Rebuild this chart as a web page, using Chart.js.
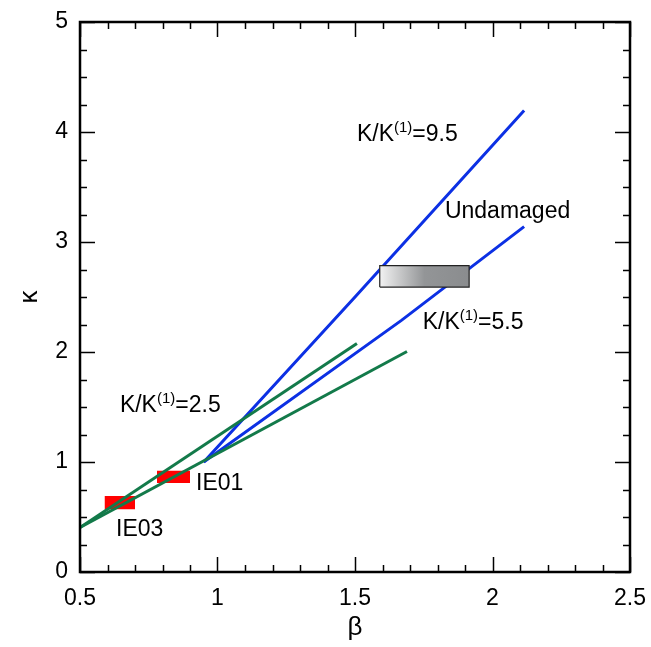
<!DOCTYPE html>
<html lang="en">
<head>
  <meta charset="UTF-8">
  <title>kappa vs beta</title>
  <script src="https://cdn.jsdelivr.net/npm/chart.js"></script>
  <style>
    html, body { margin: 0; padding: 0; background: #fff; }
    #wrap { width: 651px; height: 647px; }
  </style>
</head>
<body>
  <div id="wrap"><canvas id="myChart" width="651" height="647"></canvas></div>

  <script>
    // axis ticks
    const xTickLabels = ['0.5', '1', '1.5', '2', '2.5'];
    const yTickLabels = ['0', '1', '2', '3', '4', '5'];

    // K/K(1) curves (beta, kappa)
    const blue95X = [0.95, 1.5, 2.115];
    const blue95Y = [1.0, 2.5, 4.195];
    const blue55X = [0.95, 1.67, 2.115];
    const blue55Y = [1.0, 2.29, 3.14];
    const greenUpX = [0.5, 1.507];
    const greenUpY = [0.405, 2.077];
    const greenLowX = [0.5, 1.689];
    const greenLowY = [0.405, 2.005];

    // boxes: [xmin, xmax, ymin, ymax]
    const boxIE03 = [0.59, 0.70, 0.57, 0.69];
    const boxIE01 = [0.78, 0.90, 0.81, 0.92];
    const boxUndamaged = [1.59, 1.915, 2.59, 2.785];

    // text labels ("^" marks the superscript part)
    const noteTexts = ['K/K^(1)^=9.5', 'Undamaged', 'K/K^(1)^=5.5', 'K/K^(1)^=2.5', 'IE01', 'IE03'];
    const noteX = [1.507, 1.827, 1.746, 0.645, 0.922, 0.631];
    const noteY = [3.92, 3.218, 2.205, 1.459, 0.75, 0.323];

    function pts(xs, ys) {
      return xs.map((x, i) => ({ x: x, y: ys[i] }));
    }
    function rect(b) {
      return [
        { x: b[0], y: b[2] }, { x: b[1], y: b[2] },
        { x: b[1], y: b[3] }, { x: b[0], y: b[3] }, { x: b[0], y: b[2] }
      ];
    }

    const FONT = 'Liberation Sans, Arial, sans-serif';

    function grayGradient(context) {
      const chart = context.chart;
      if (!chart.chartArea) return '#999';
      const xs = chart.scales.x;
      const x0 = xs.getPixelForValue(boxUndamaged[0]);
      const x1 = xs.getPixelForValue(boxUndamaged[1]);
      const g = chart.ctx.createLinearGradient(x0, 0, x1, 0);
      g.addColorStop(0, '#f2f2f2');
      g.addColorStop(0.5, '#939597');
      g.addColorStop(1, '#8a8c8e');
      return g;
    }

    // frame with inward ticks on all four sides
    const framePlugin = {
      id: 'frame',
      afterDraw(chart) {
        const { ctx, chartArea: a, scales: { x, y } } = chart;
        ctx.save();
        ctx.strokeStyle = '#000';
        ctx.lineWidth = 1.5;
        ctx.beginPath();
        for (let v = 0.5; v <= 2.5001; v += 0.1) {
          const px = Math.round(x.getPixelForValue(v)) + 0.5;
          const major = Math.abs(v * 2 - Math.round(v * 2)) < 1e-6;
          const len = major ? 15 : 7;
          ctx.moveTo(px, a.bottom); ctx.lineTo(px, a.bottom - len);
          ctx.moveTo(px, a.top); ctx.lineTo(px, a.top + len);
        }
        for (let v = 0; v <= 5.0001; v += 0.25) {
          const py = Math.round(y.getPixelForValue(v)) + 0.5;
          const major = Math.abs(v - Math.round(v)) < 1e-6;
          const len = major ? 15 : 7;
          ctx.moveTo(a.left, py); ctx.lineTo(a.left + len, py);
          ctx.moveTo(a.right, py); ctx.lineTo(a.right - len, py);
        }
        ctx.stroke();
        ctx.lineWidth = 2.5;
        ctx.strokeRect(a.left, a.top, a.right - a.left, a.bottom - a.top);
        ctx.restore();
      }
    };

    const notesPlugin = {
      id: 'notes',
      afterDatasetsDraw(chart) {
        const { ctx, scales: { x, y } } = chart;
        ctx.save();
        ctx.fillStyle = '#000';
        ctx.textBaseline = 'alphabetic';
        ctx.textAlign = 'left';
        noteTexts.forEach((t, i) => {
          let px = x.getPixelForValue(noteX[i]);
          const py = y.getPixelForValue(noteY[i]);
          t.split('^').forEach((part, k) => {
            const sup = k % 2 === 1;
            ctx.font = (sup ? '15px ' : '23px ') + FONT;
            ctx.fillText(part, px, sup ? py - 9 : py);
            px += ctx.measureText(part).width;
          });
        });
        ctx.restore();
      }
    };

    const lineDs = (data, color, order) => ({
      data: data, showLine: true, borderColor: color, borderWidth: 3,
      pointRadius: 0, fill: false, tension: 0, order: order
    });
    const boxDs = (data, bg, border, order) => ({
      data: data, showLine: true, borderColor: border, borderWidth: border ? 1.2 : 0,
      backgroundColor: bg, pointRadius: 0, fill: 'shape', tension: 0, order: order
    });

    const ctx = document.getElementById('myChart').getContext('2d');
    new Chart(ctx, {
      type: 'scatter',
      data: {
        datasets: [
          boxDs(rect(boxUndamaged), grayGradient, '#222', 1),
          lineDs(pts(greenUpX, greenUpY), '#137a4a', 2),
          lineDs(pts(greenLowX, greenLowY), '#137a4a', 2),
          lineDs(pts(blue95X, blue95Y), '#0c30e4', 3),
          lineDs(pts(blue55X, blue55Y), '#0c30e4', 3),
          boxDs(rect(boxIE03), '#ff0000', null, 4),
          boxDs(rect(boxIE01), '#ff0000', null, 4)
        ]
      },
      options: {
        responsive: false,
        animation: false,
        layout: { padding: { top: 22, right: 21, left: 0, bottom: 0 } },
        plugins: { legend: { display: false }, tooltip: { enabled: false } },
        scales: {
          x: {
            type: 'linear', min: 0.5, max: 2.5,
            grid: { display: false, drawTicks: false },
            border: { display: false },
            afterFit: s => { s.height = 75; s.paddingLeft = 0; s.paddingRight = 0; },
            ticks: {
              stepSize: 0.5, padding: 13, color: '#000',
              font: { family: FONT, size: 23 },
              callback: (v, i) => xTickLabels[i]
            },
            title: { display: true, text: 'β', color: '#000', font: { family: FONT, size: 26 }, padding: { top: 0 } }
          },
          y: {
            type: 'linear', min: 0, max: 5,
            grid: { display: false, drawTicks: false },
            border: { display: false },
            afterFit: s => { s.width = 80; s.paddingTop = 0; s.paddingBottom = 0; },
            ticks: {
              stepSize: 1, padding: 12, color: '#000',
              font: { family: FONT, size: 23 },
              callback: (v, i) => yTickLabels[i]
            },
            title: { display: true, text: 'κ', color: '#000', font: { family: FONT, size: 26 }, padding: { top: 14, bottom: 0 } }
          }
        }
      },
      plugins: [framePlugin, notesPlugin]
    });
  </script>
</body>
</html>
